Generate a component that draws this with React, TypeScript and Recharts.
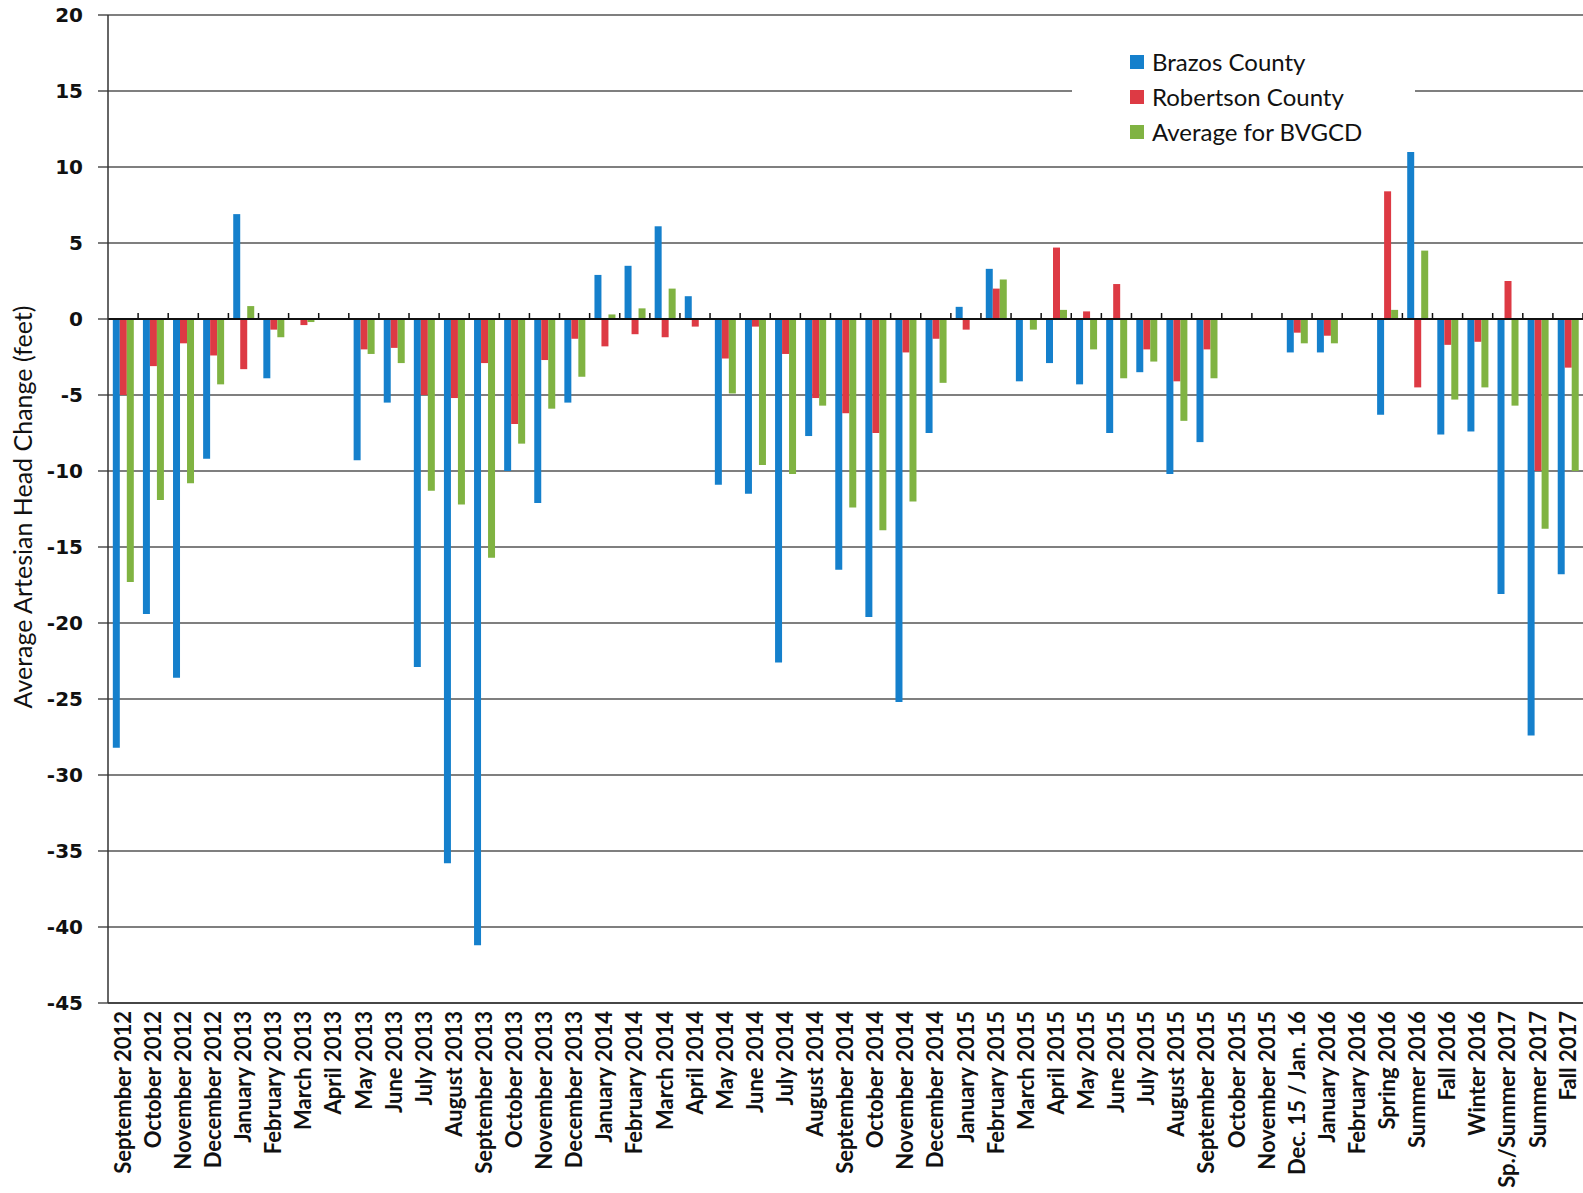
// Average artesian head change by period, Brazos vs Robertson County
import React from 'react';
import {
  BarChart,
  Bar,
  XAxis,
  YAxis,
  CartesianGrid,
  Legend,
  ReferenceLine
} from 'recharts';

const categories = [
  'September 2012', 'October 2012', 'November 2012', 'December 2012',
  'January 2013', 'February 2013', 'March 2013', 'April 2013', 'May 2013',
  'June 2013', 'July 2013', 'August 2013', 'September 2013', 'October 2013',
  'November 2013', 'December 2013', 'January 2014', 'February 2014',
  'March 2014', 'April 2014', 'May 2014', 'June 2014', 'July 2014',
  'August 2014', 'September 2014', 'October 2014', 'November 2014',
  'December 2014', 'January 2015', 'February 2015', 'March 2015',
  'April 2015', 'May 2015', 'June 2015', 'July 2015', 'August 2015',
  'September 2015', 'October 2015', 'November 2015', 'Dec. 15 / Jan. 16',
  'January 2016', 'February 2016', 'Spring 2016', 'Summer 2016',
  'Fall 2016', 'Winter 2016', 'Sp./Summer 2017', 'Summer 2017', 'Fall 2017'
];

const brazos = [
  -28.2, -19.4, -23.6, -9.2, 6.9, -3.9, 0, 0, -9.3, -5.5, -22.9, -35.8,
  -41.2, -10.0, -12.1, -5.5, 2.9, 3.5, 6.1, 1.5, -10.9, -11.5, -22.6, -7.7,
  -16.5, -19.6, -25.2, -7.5, 0.8, 3.3, -4.1, -2.9, -4.3, -7.5, -3.5, -10.2,
  -8.1, 0, 0, -2.2, -2.2, 0, -6.3, 11.2, -7.6, -7.4, -18.1, -27.4, -16.8
];

const robertson = [
  -5.0, -3.1, -1.6, -2.4, -3.3, -0.7, -0.4, 0, -2.0, -1.9, -5.0, -5.2,
  -2.9, -6.9, -2.7, -1.3, -1.8, -1.0, -1.2, -0.5, -2.6, -0.5, -2.3, -5.2,
  -6.2, -7.5, -2.2, -1.3, -0.7, 2.0, 0, 4.7, 0.5, 2.3, -2.0, -4.1,
  -2.0, 0, 0, -0.9, -1.1, 0, 8.4, -4.5, -1.7, -1.5, 2.5, -10.0, -3.2
];

const average = [
  -17.3, -11.9, -10.8, -4.3, 0.85, -1.2, -0.2, 0, -2.3, -2.9, -11.3, -12.2,
  -15.7, -8.2, -5.9, -3.8, 0.3, 0.7, 2.0, 0, -4.9, -9.6, -10.2, -5.7,
  -12.4, -13.9, -12.0, -4.2, 0, 2.6, -0.7, 0.6, -2.0, -3.9, -2.8, -6.7,
  -3.9, 0, 0, -1.6, -1.6, 0, 0.6, 4.5, -5.3, -4.5, -5.7, -13.8, -10.0
];

const yTicks = [-45, -40, -35, -30, -25, -20, -15, -10, -5, 0, 5, 10, 15, 20];

const chartData = categories.map((name, i) => ({
  name,
  brazos: brazos[i],
  robertson: robertson[i],
  average: average[i]
}));

const COLORS = {
  brazos: '#1580cc',
  robertson: '#dd3a44',
  average: '#80b342'
};

const XTick = ({ x, y, payload }: any) => (
  <text
    x={x}
    y={y}
    dy="0.35em"
    transform={`rotate(-90 ${x} ${y})`}
    textAnchor="end"
    fontFamily="Lato, sans-serif"
    fontWeight={700}
    fontSize={22}
    fill="#111"
  >
    {payload.value}
  </text>
);

// zero line with the small category tick marks sitting on it
const ZeroAxis = (props: any) => {
  const { x1, x2, y1 } = props;
  const step = (x2 - x1) / categories.length;
  return (
    <g>
      <line x1={x1} x2={x2} y1={y1} y2={y1} stroke="#111" strokeWidth={2.2} />
      {categories.map((_, i) => (
        <line
          key={i}
          x1={x1 + (i + 1) * step}
          x2={x1 + (i + 1) * step}
          y1={y1}
          y2={y1 - 6}
          stroke="#111"
          strokeWidth={1.5}
        />
      ))}
    </g>
  );
};

const YTitle = ({ viewBox }: any) => {
  const cx = viewBox.x + 22;
  const cy = viewBox.y + viewBox.height / 2 - 2;
  return (
    <text
      x={cx}
      y={cy}
      transform={`rotate(-90 ${cx} ${cy})`}
      textAnchor="middle"
      dominantBaseline="central"
      fontFamily="Lato, sans-serif"
      fontSize={25}
      fill="#111"
    >
      Average Artesian Head Change (feet)
    </text>
  );
};

const legendItems = [
  { label: 'Brazos County', color: COLORS.brazos },
  { label: 'Robertson County', color: COLORS.robertson },
  { label: 'Average for BVGCD', color: COLORS.average }
];

const LegendBox = () => (
  <div style={{ paddingTop: 4, paddingLeft: 58 }}>
    {legendItems.map(item => (
      <div
        key={item.label}
        style={{
          display: 'flex',
          alignItems: 'center',
          height: 35,
          fontFamily: 'Lato, sans-serif',
          fontSize: 24,
          color: '#111'
        }}
      >
        <span
          style={{
            display: 'inline-block',
            width: 14,
            height: 14,
            background: item.color,
            marginRight: 8
          }}
        />
        {item.label}
      </div>
    ))}
  </div>
);

export default function App() {
  return (
    <div
      style={{
        position: 'fixed',
        left: 0,
        top: 0,
        width: 1583,
        height: 1193,
        overflow: 'hidden',
        background: '#fff'
      }}
    >
      <BarChart
        width={1583}
        height={1193}
        data={chartData}
        margin={{ top: 15, right: 0, left: 0, bottom: 0 }}
        barCategoryGap="16%"
        barGap={0}
      >
        <CartesianGrid vertical={false} stroke="#555" strokeWidth={1.3} />
        <XAxis
          dataKey="name"
          interval={0}
          height={190}
          tickLine={false}
          axisLine={{ stroke: '#333', strokeWidth: 1.5 }}
          tick={<XTick />}
        />
        <YAxis
          width={108}
          domain={[-45, 20]}
          ticks={yTicks}
          interval={0}
          tickSize={10}
          tickMargin={15}
          axisLine={{ stroke: '#333', strokeWidth: 1.5 }}
          tickLine={{ stroke: '#333', strokeWidth: 1.3 }}
          tick={{
            fontFamily: 'DejaVu Sans, sans-serif',
            fontWeight: 700,
            fontSize: 20,
            fill: '#111'
          }}
          label={<YTitle />}
        />
        <ReferenceLine y={0} shape={<ZeroAxis />} />
        <Legend
          layout="vertical"
          align="center"
          verticalAlign="middle"
          content={<LegendBox />}
          wrapperStyle={{
            position: 'absolute',
            left: 1072,
            top: 40,
            width: 343,
            height: 112,
            background: '#fff'
          }}
        />
        <Bar dataKey="brazos" name="Brazos County" fill={COLORS.brazos} isAnimationActive={false} />
        <Bar dataKey="robertson" name="Robertson County" fill={COLORS.robertson} isAnimationActive={false} />
        <Bar dataKey="average" name="Average for BVGCD" fill={COLORS.average} isAnimationActive={false} />
      </BarChart>
    </div>
  );
}
